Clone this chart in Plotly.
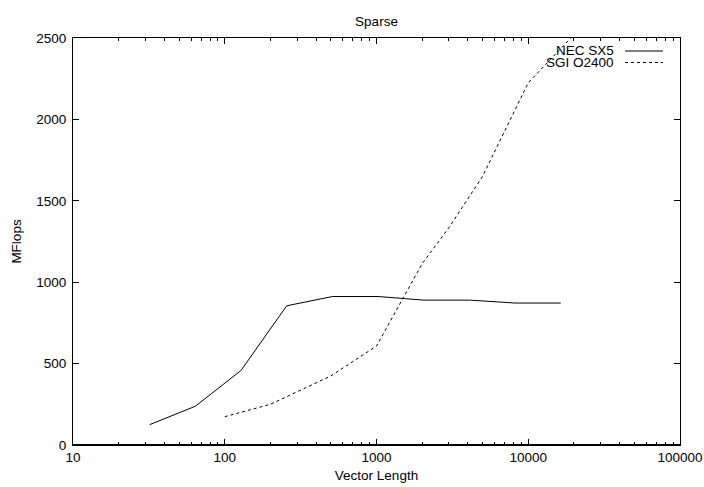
import plotly.graph_objects as go

# Data
nec_x = [32, 64, 128, 256, 512, 1024, 2048, 4096, 8192, 16384]
nec_y = [125, 238, 458, 855, 912, 912, 890, 890, 872, 872]
sgi_x = [100, 200, 500, 1000, 2000, 3000, 5000, 10000, 20000]
sgi_y = [174, 250, 424, 608, 1114, 1335, 1650, 2225, 2520]
x_ticks = [10, 100, 1000, 10000, 100000]
x_tick_labels = ["10", "100", "1000", "10000", "100000"]
y_ticks = [0, 500, 1000, 1500, 2000, 2500]
series_names = ["NEC SX5", "SGI O2400"]

minor_x = [m * 10 ** e for e in range(1, 5) for m in range(2, 10)]

FONT = "Liberation Sans, Arial, Helvetica, sans-serif"
FS = 13.5

fig = go.Figure()
fig.add_trace(go.Scatter(x=nec_x, y=nec_y, mode="lines", name=series_names[0],
                         line=dict(color="black", width=1), showlegend=False))
fig.add_trace(go.Scatter(x=sgi_x, y=sgi_y, mode="lines", name=series_names[1],
                         line=dict(color="black", width=1, dash="3px,3px"), showlegend=False))

# plot area geometry in px
L, R, T, B = 73, 680, 38, 445
W, H = 704, 487
pw, ph = R - L, B - T

def px_x(px):
    return (px - L) / pw

def px_y(py):
    return (B - py) / ph

# custom legend (text right-aligned, sample on right like gnuplot)
legend_rows = [(51, "solid"), (62.5, "3px,3px")]
for name, (py, dash) in zip(series_names, legend_rows):
    fig.add_annotation(x=px_x(616), y=px_y(py), xref="paper", yref="paper",
                       text=name, showarrow=False, xanchor="right", yanchor="middle",
                       font=dict(family=FONT, size=FS, color="black"))
    fig.add_shape(type="line", xref="paper", yref="paper",
                  x0=px_x(625), x1=px_x(663), y0=px_y(py), y1=px_y(py),
                  line=dict(color="black", width=1, dash=dash))

# slightly heavier bottom border, as in the reference
fig.add_shape(type="line", xref="paper", yref="paper", x0=0, x1=1, y0=0, y1=0,
              line=dict(color="black", width=2))

fig.update_layout(
    width=W, height=H,
    margin=dict(l=L, r=W - R, t=T, b=H - B, pad=0, autoexpand=False),
    paper_bgcolor="white", plot_bgcolor="white",
    font=dict(family=FONT, size=FS, color="black"),
    title=dict(text="Sparse", x=0.5 * (L + R) / W, xanchor="center",
               y=1 - 21 / H, yanchor="middle",
               font=dict(family=FONT, size=FS, color="black")),
    xaxis=dict(type="log", range=[1, 5], tickvals=x_ticks, ticktext=x_tick_labels,
               automargin=False,
               ticks="inside", ticklen=6, tickcolor="black", tickwidth=1,
               showline=True, linecolor="black", linewidth=1, mirror="ticks",
               showgrid=False, zeroline=False,
               minor=dict(tickvals=minor_x, ticks="inside", ticklen=3,
                          tickcolor="black", tickwidth=1, showgrid=False),
               title=dict(text="Vector Length", standoff=6,
                          font=dict(family=FONT, size=FS, color="black"))),
    yaxis=dict(range=[0, 2500], tickvals=y_ticks, automargin=False,
               ticks="inside", ticklen=6, tickcolor="black", tickwidth=1,
               ticklabelstandoff=3,
               showline=True, linecolor="black", linewidth=1, mirror="ticks",
               showgrid=False, zeroline=False,
               title=dict(text="MFlops", standoff=11,
                          font=dict(family=FONT, size=FS, color="black"))),
)

fig.write_html("out.html")
